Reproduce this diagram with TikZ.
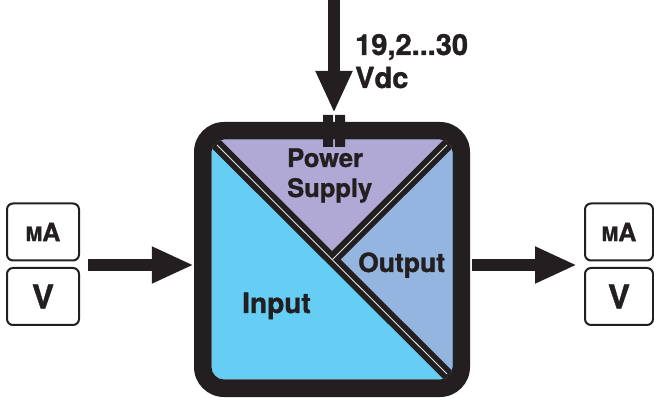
\documentclass[tikz,border=0pt]{standalone}
\usepackage{fontspec}
\setmainfont{TeX Gyre Heros}[BoldFeatures={FakeBold=1.2}]
\usetikzlibrary{arrows.meta}
\definecolor{dark}{HTML}{231F20}
\definecolor{cin}{HTML}{66CEF5}
\definecolor{cps}{HTML}{B0A9D5}
\definecolor{cout}{HTML}{93B5DF}
\definecolor{sep}{HTML}{E4E4E4}
\begin{document}
\begin{tikzpicture}[x=1pt,y=-1pt,
  valbox/.style={draw=dark, line width=2pt, rounded corners=6pt, minimum width=72pt,
    minimum height=57pt, inner sep=0pt, text=dark, font=\bfseries},
  bigarrow/.style={draw=dark, line width=11.5pt, -{Triangle[length=42pt,width=34pt]}},
  lbl/.style={text=dark, inner sep=0pt},
  band/.style={draw=dark, line width=12pt},
  sepline/.style={draw=sep, line width=0.9pt},
]
\useasboundingbox (0,0) rectangle (654,398);

% main module (named frame)
\node[minimum width=276pt, minimum height=275pt, inner sep=0pt] (main) at (332,259.5) {};

\begin{scope}
  \clip[rounded corners=12.5pt] (211.5,139.5) rectangle (452.5,379.5);
  \fill[cin] (205,130) rectangle (460,390);
  \fill[cps] (211.5,139.5) -- (452.5,139.5) -- (332,259.5) -- cycle;
  \fill[cout] (452.5,139.5) -- (452.5,379.5) -- (332,259.5) -- cycle;
  \draw[band] (200,128) -- (464,391);
  \draw[band] (464,128) -- (332,259.5);
  \draw[sepline] (217,145) -- (447,374);
  \draw[sepline] (447,145) -- (332.5,259.5);
\end{scope}
% black frame
\fill[dark, even odd rule, rounded corners=30pt] (194,122) rectangle (470,397)
  [rounded corners=12.5pt] (211.5,139.5) rectangle (452.5,379.5);
% supply connector tabs
\fill[dark] (323,115) rectangle (333,123) (335,115) rectangle (345,123);
\fill[dark] (323,139) rectangle (333,147) (335,139) rectangle (345,147);
\coordinate (tab) at (334,115);

% labels in module
\node[lbl, font=\bfseries\fontsize{25.5}{30}\selectfont, anchor=base west] (ps1) at (287,167) {Power};
\node[lbl, font=\bfseries\fontsize{25.5}{30}\selectfont, anchor=base west] (ps2) at (287,197) {Supply};
\node[lbl, font=\bfseries\fontsize{26.5}{30}\selectfont, anchor=base west] (outl) at (358,272) {Output};
\node[lbl, font=\bfseries\fontsize{28}{32}\selectfont, anchor=base west] (inl) at (242,313) {Input};

% supply
\node[lbl, font=\bfseries\fontsize{29}{32}\selectfont, anchor=base west] (sv1) at (355,55) {19,2...30};
\node[lbl, font=\bfseries\fontsize{29}{32}\selectfont, anchor=base west] (sv2) at (355,88) {Vdc};
\coordinate (vin) at (334,0);
\draw[bigarrow] (vin) -- ([yshift=2pt]tab);

% input boxes
\node[valbox] (mAL) at (43,232) {{\fontsize{20}{20}\selectfont M}{\fontsize{25}{25}\selectfont A}};
\node[valbox] (VL) at (43,296.5) {\fontsize{33}{33}\selectfont V};
\coordinate (Lj) at (79,265);
\draw[bigarrow] ([xshift=9pt]Lj) -- (main.west |- Lj);

% output boxes
\node[valbox, minimum width=68pt] (mAR) at (619,232) {{\fontsize{20}{20}\selectfont M}{\fontsize{25}{25}\selectfont A}};
\node[valbox, minimum width=68pt] (VR) at (619,296.5) {\fontsize{33}{33}\selectfont V};
\coordinate (Rj) at (585,265);
\draw[bigarrow] ([xshift=2pt]main.east |- Rj) -- ([xshift=-8pt]Rj);
\end{tikzpicture}
\end{document}
